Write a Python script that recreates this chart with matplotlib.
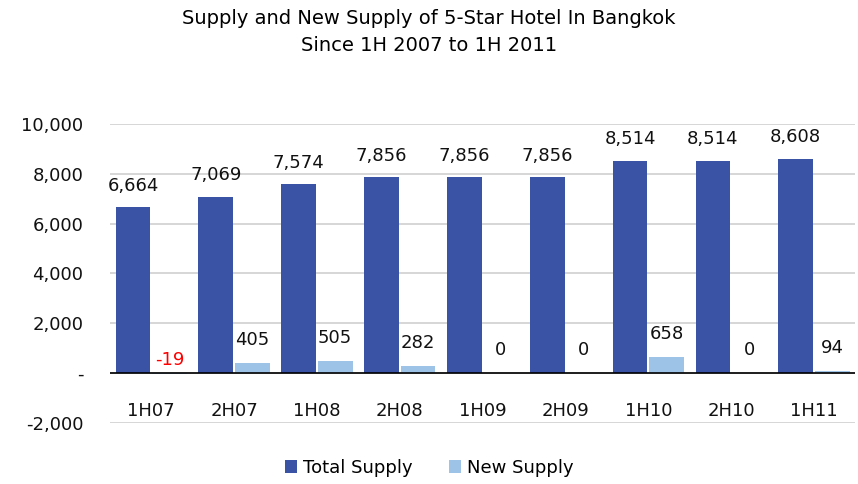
import matplotlib.pyplot as plt
import numpy as np

plt.rcParams['font.family'] = ['DejaVu Sans']

# Data
periods = ['1H07', '2H07', '1H08', '2H08', '1H09', '2H09', '1H10', '2H10', '1H11']
total_supply = [6664, 7069, 7574, 7856, 7856, 7856, 8514, 8514, 8608]
new_supply = [-19, 405, 505, 282, 0, 0, 658, 0, 94]
y_ticks = [-2000, 0, 2000, 4000, 6000, 8000, 10000]

dark = '#3A53A4'
light = '#9DC3E6'

fig = plt.figure(figsize=(8.58, 4.84), dpi=100)
ax = fig.add_axes([0.128, 0.126, 0.869, 0.618])

x = np.arange(len(periods))
w = 0.42
gap = 0.02
ax.bar(x - w / 2 - gap / 2, total_supply, width=w, color=dark, label='Total Supply', zorder=3)
ax.bar(x + w / 2 + gap / 2, new_supply, width=w, color=light, label='New Supply', zorder=3)

# value labels
for xi, v in zip(x, total_supply):
    ax.annotate(f'{v:,}', (xi - w / 2 - gap / 2, v), xytext=(0, 9), textcoords='offset points',
                ha='center', va='bottom', fontsize=13, color='#111111')
for xi, v in zip(x, new_supply):
    if v < 0:
        ax.annotate(f'{v:,}', (xi + w / 2 + gap / 2, 0), xytext=(0, 3), textcoords='offset points',
                    ha='center', va='bottom', fontsize=13, color='#FF0000')
    else:
        ax.annotate(f'{v:,}', (xi + w / 2 + gap / 2, v), xytext=(0, 10), textcoords='offset points',
                    ha='center', va='bottom', fontsize=13, color='#111111')

# category labels sit between 0 and -2,000
for xi, p in zip(x, periods):
    ax.text(xi, -1500, p, ha='center', va='center', fontsize=13, color='#111111')

ax.set_xlim(-0.5, len(periods) - 0.5)
ax.set_ylim(-2000, 10000)
ax.set_yticks(y_ticks)
ax.set_yticklabels(['-2,000' if t == -2000 else ('-' if t == 0 else f'{t:,}') for t in y_ticks],
                   fontsize=13, color='#111111')
ax.set_xticks([])
ax.tick_params(axis='y', length=0, pad=19)
for s in ax.spines.values():
    s.set_visible(False)
ax.grid(axis='y', color='#D0D0D0', linewidth=1.2, zorder=0)
ax.axhline(0, color='black', linewidth=1.2, zorder=4)

fig.text(0.5, 0.962, 'Supply and New Supply of 5-Star Hotel In Bangkok', ha='center', va='center', fontsize=14)
fig.text(0.5, 0.907, 'Since 1H 2007 to 1H 2011', ha='center', va='center', fontsize=14)

fig.legend(loc='center', bbox_to_anchor=(0.5, 0.033), ncol=2, frameon=False, fontsize=13,
           handlelength=0.7, handleheight=0.7, handletextpad=0.3, columnspacing=2.0)

fig.savefig('out.png', dpi=100)
